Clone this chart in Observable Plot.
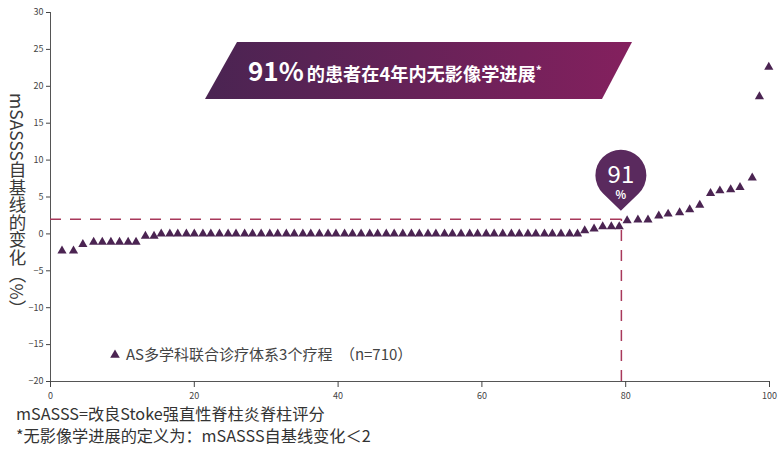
<!DOCTYPE html>
<html><head><meta charset="utf-8">
<script src="https://cdn.jsdelivr.net/npm/d3@7"></script>
<script src="https://cdn.jsdelivr.net/npm/@observablehq/plot@0.6"></script>
<style>
body{margin:0;background:#fff;}
#wrap{position:relative;width:782px;height:452px;font-family:"Noto Sans CJK SC","Noto Sans",sans-serif;}
#wrap svg{display:block;}
#ylab{position:absolute;left:5px;top:93px;writing-mode:vertical-rl;text-orientation:mixed;font-size:17.5px;color:#3a3a3a;font-family:"Noto Sans CJK SC","Noto Sans",sans-serif;}
</style></head>
<body><div id="wrap"><div id="ylab">mSASSS自基线的变化（%）</div></div>
<script>
// percentile position of each patient (x) and mSASSS change from baseline (y)
const pct = [
  1.6, 3.2, 4.5, 6.0, 7.2, 8.4, 9.6, 10.8, 11.9, 13.2, 14.4,
  15.4, 16.6, 17.7, 18.9, 20.0, 21.2, 22.3, 23.5, 24.7, 25.8, 27.0, 28.1, 29.3, 30.5, 31.6, 32.8, 33.9,
  35.1, 36.2, 37.4, 38.6, 39.7, 40.9, 42.0, 43.2, 44.4, 45.5, 46.7, 47.8, 49.0, 50.2, 51.3, 52.5, 53.6,
  54.8, 55.9, 57.1, 58.3, 59.4, 60.6, 61.7, 62.9, 64.1, 65.2, 66.4, 67.5, 68.7, 69.8, 71.0, 72.2, 73.3,
  74.3, 75.6, 76.8, 78.0, 79.1, 80.2, 81.7, 83.1, 84.6, 85.9, 87.5, 88.9, 90.3, 91.8, 93.1, 94.6, 95.9,
  97.6, 98.6, 99.9
];
const change = [
  -2.3, -2.3, -1.4, -1.1, -1.1, -1.1, -1.1, -1.1, -1.1, -0.3, -0.3,
  0, 0, 0, 0, 0, 0, 0, 0, 0, 0, 0, 0, 0, 0, 0, 0, 0,
  0, 0, 0, 0, 0, 0, 0, 0, 0, 0, 0, 0, 0, 0, 0, 0, 0,
  0, 0, 0, 0, 0, 0, 0, 0, 0, 0, 0, 0, 0, 0, 0, 0, 0,
  0.45, 0.7, 1.0, 1.0, 1.0, 1.8, 1.9, 1.9, 2.45, 2.7, 2.9, 3.3, 3.9, 5.5, 5.85, 6.0, 6.3,
  7.6, 18.6, 22.6
];
const xTicks = [0, 20, 40, 60, 80, 100];
const yTicks = [-20, -15, -10, -5, 0, 5, 10, 15, 20, 25, 30];
const threshold = 2;        // no radiographic progression: change < 2
const cutoffPct = 79.4;     // 91% marker position
const bannerText1 = "91%";
const bannerText2 = "的患者在4年内无影像学进展";
const bannerStar = "*";
const bubbleNum = "91";
const bubblePct = "%";
const legendText = "AS多学科联合诊疗体系3个疗程　（n=710）";
const note1 = "mSASSS=改良Stoke强直性脊柱炎脊柱评分";
const note2 = "*无影像学进展的定义为：mSASSS自基线变化＜2";

const data = pct.map((p, i) => ({pct: p, change: change[i]}));
const purple = "#4b2452";
const dashColor = "#a8385a";
const font = '"Noto Sans CJK SC","Noto Sans",sans-serif';

function decorations(index, scales) {
  const g = d3.create("svg:g").attr("text-anchor", "start");
  const grad = g.append("defs").append("linearGradient").attr("id", "bannerGrad")
    .attr("x1", "0%").attr("x2", "100%");
  grad.append("stop").attr("offset", "0%").attr("stop-color", "#4a2452");
  grad.append("stop").attr("offset", "100%").attr("stop-color", "#84205e");
  g.append("path").attr("d", "M237,42 L632,42 L602,99 L205,99 Z").attr("fill", "url(#bannerGrad)");
  const t = g.append("text").attr("x", 248).attr("y", 81).attr("fill", "#fff")
    .attr("font-weight", "bold").attr("font-family", font);
  t.append("tspan").attr("font-size", 26).text(bannerText1);
  t.append("tspan").attr("font-size", 18.2).attr("dx", 3).text(bannerText2);
  t.append("tspan").attr("font-size", 12).attr("dy", -6).text(bannerStar);

  // bubble
  const cx = scales.x(cutoffPct), tipY = scales.y(threshold) - 8;
  const r = 25.5, cy = tipY - 35.5;
  const sx = 17.8, sy = 18.3;
  g.append("path")
    .attr("d", `M${cx},${tipY} L${cx - sx},${cy + sy} A${r},${r} 0 1 1 ${cx + sx},${cy + sy} Z`)
    .attr("fill", "#5a2a5e");
  g.append("text").attr("x", cx).attr("y", cy + 8).attr("text-anchor", "middle")
    .attr("fill", "#fff").attr("font-size", 24).attr("font-family", font).text(bubbleNum);
  g.append("text").attr("x", cx).attr("y", cy + 24).attr("text-anchor", "middle")
    .attr("fill", "#fff").attr("font-size", 11).attr("font-weight", "bold").attr("font-family", font).text(bubblePct);

  // legend
  g.append("path").attr("transform", "translate(115,355)")
    .attr("d", d3.symbol(d3.symbolTriangle, 40)()).attr("fill", purple);
  g.append("text").attr("x", 126).attr("y", 360).attr("fill", "#444").attr("font-size", 15)
    .attr("font-family", font).text(legendText);

  // footnotes
  g.append("text").attr("x", 16).attr("y", 420).attr("fill", "#333").attr("font-size", 16.2)
    .attr("font-family", font).text(note1);
  g.append("text").attr("x", 16).attr("y", 442).attr("fill", "#333").attr("font-size", 16.2)
    .attr("font-family", font).text(note2);
  return g.node();
}

const chart = Plot.plot({
  width: 782, height: 452,
  marginLeft: 50, marginRight: 13, marginTop: 12, marginBottom: 71,
  x: {domain: [0, 100]},
  y: {domain: [-20, 30]},
  style: {fontFamily: font, background: "transparent"},
  marks: [
    Plot.ruleX([0], {y1: -20, y2: 30, stroke: "#555"}),
    Plot.ruleY([-20], {x1: 0, x2: 100, stroke: "#555"}),
    Plot.axisX({ticks: xTicks, tickSize: 6, tickPadding: 5, fontSize: 9, color: "#444", label: null}),
    Plot.axisY({ticks: yTicks, tickSize: 4, tickPadding: 3, fontSize: 9, color: "#444", label: null}),
    Plot.ruleY([threshold], {x1: 0, x2: cutoffPct, stroke: dashColor, strokeWidth: 1.5, strokeDasharray: "11,9"}),
    Plot.ruleX([cutoffPct], {y1: -20, y2: threshold, stroke: dashColor, strokeWidth: 1.5, strokeDasharray: "11,9"}),
    Plot.dot(data, {x: "pct", y: "change", symbol: "triangle", r: 3.4, fill: purple}),
    decorations
  ]
});
document.getElementById("wrap").prepend(chart);
</script>
</body></html>
